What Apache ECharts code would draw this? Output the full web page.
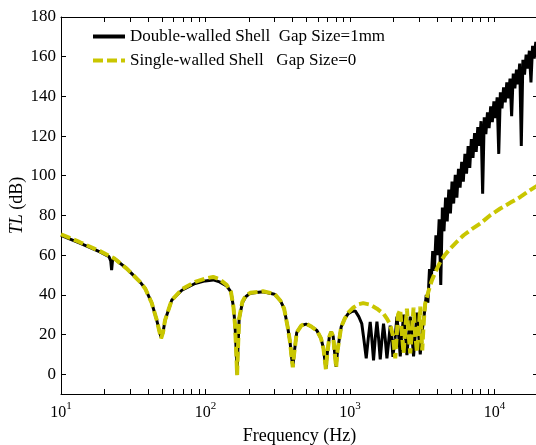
<!DOCTYPE html>
<html>
<head>
<meta charset="utf-8">
<script src="https://cdn.jsdelivr.net/npm/echarts@6/dist/echarts.min.js"></script>
<style>
html, body { margin: 0; padding: 0; background: #fff; }
#main { width: 536px; height: 445px; }
</style>
</head>
<body>
<div id="main"></div>
<script>
var myChart = echarts.init(document.getElementById('main'), null, { renderer: 'canvas' });

var font = 'Liberation Serif';
var seriesNames = ['Double-walled Shell  Gap Size=1mm', 'Single-walled Shell   Gap Size=0'];
var fMin = 10, fMax = 20000;
var tlMin = -10, tlMax = 180;
var yTicks = [0, 20, 40, 60, 80, 100, 120, 140, 160, 180];
var majorTicks = [10, 100, 1000, 10000];
var minorTicks = [20, 30, 40, 50, 60, 70, 80, 90,
    200, 300, 400, 500, 600, 700, 800, 900,
    2000, 3000, 4000, 5000, 6000, 7000, 8000, 9000];

// [frequency Hz, TL dB]
var doubleWalled = [
    [10, 70], [13.5, 66], [18.6, 61.6], [21.5, 59.2], [22.1, 57], [22.4, 52.5], [22.7, 57], [23.3, 58.4],
    [28.5, 53.2], [35.2, 46.5], [38.2, 43.2], [42.4, 36], [45.9, 27.5], [48, 21.5], [49.3, 18.5], [50.8, 21],
    [52.5, 27.2], [58.4, 37.3], [68.6, 42.3], [84.7, 45.7], [99.4, 47], [113, 47.5], [125, 46.5], [140, 44.5],
    [150, 41.5], [156, 34], [160, 25], [163, 12], [165.5, 0], [167.5, 12], [171, 28], [180, 36], [190, 39],
    [204, 40.8], [250, 41.5], [300, 40.3], [330, 37], [350, 33], [370, 24], [385, 16], [395, 8], [402, 3.7],
    [410, 10], [428, 21], [460, 24.5], [497, 25.2], [540, 24], [590, 22], [630, 18], [655, 13], [670, 7],
    [681, 2.8], [695, 10], [720, 19], [741, 21.3], [765, 19], [785, 10], [802, 3.7], [820, 12], [869, 23.8],
    [920, 28], [972, 30.5], [1030, 31.6], [1086, 31.9], [1150, 29], [1206, 25.5], [1250, 17], [1295, 8],
    [1338, 18], [1380, 26.3], [1415, 18], [1455, 7], [1495, 18], [1536, 26.5], [1577, 18], [1619, 7.5],
    [1662, 17], [1706, 25.5], [1752, 18], [1801, 8], [1850, 16], [1898, 24.5], [1940, 18], [1982, 8.7],
    [2050, 18], [2113, 29], [2170, 20], [2227, 9], [2290, 20], [2347, 30], [2410, 20], [2477, 9.6],
    [2545, 20], [2612, 29], [2680, 20], [2753, 9], [2830, 20], [2906, 31], [2985, 20], [3063, 10],
    [3162, 22], [3265, 30],
    [3371, 40], [3459, 36], [3549, 53], [3641, 46], [3736, 62], [3833, 52], [3932, 70], [4035, 60],
    [4140, 78], [4247, 45], [4358, 84], [4471, 72], [4587, 89], [4706, 77], [4829, 93], [4954, 81],
    [5083, 97], [5215, 86], [5351, 100.5], [5490, 89], [5633, 103.5], [5779, 94], [5929, 107], [6083, 97],
    [6242, 111], [6404, 101], [6570, 115], [6741, 104], [6916, 118.5], [7096, 109], [7281, 121.5], [7470, 112],
    [7664, 124.5], [7864, 115], [8068, 127.5], [8278, 91], [8493, 129.5], [8714, 121], [8941, 132], [9173, 124],
    [9412, 135], [9656, 127], [9907, 137.5], [10165, 129], [10429, 139.5], [10700, 111], [10979, 142],
    [11264, 134], [11557, 144.5], [11857, 137], [12166, 147], [12482, 139], [12807, 149], [13140, 130],
    [13481, 151.5], [13832, 144], [14191, 153.5], [14560, 146], [14939, 156.5], [15327, 115], [15726, 158.5],
    [16135, 151], [16554, 161], [16985, 154], [17426, 163], [17879, 147], [18344, 165.5], [18821, 159],
    [19310, 167.5], [19812, 161], [20000, 169]
];

var singleWalled = [
    [10, 70.5], [13.5, 66.5], [18.6, 62], [23.3, 58.4], [28.5, 53.2], [35.2, 46.5], [38.2, 43.2], [42.4, 36],
    [45.9, 27.5], [48, 21.5], [49.3, 18], [50.8, 21], [52.5, 27.2], [58.4, 37.3], [68.6, 42.8], [84.7, 46.5],
    [99.4, 48.2], [113, 49], [125, 47.8], [140, 45], [150, 41.5], [156, 34], [160, 25], [163, 12],
    [165.5, -0.5], [167.5, 12], [171, 28], [180, 36.5], [190, 39.5], [204, 41], [250, 41.8], [300, 40.5],
    [330, 37], [350, 33], [370, 24], [385, 16], [395, 8], [402, 3.5], [410, 10], [428, 21], [460, 24.5],
    [497, 25.5], [540, 24], [590, 22], [630, 18], [655, 13], [670, 7], [681, 2.5], [695, 10], [720, 19],
    [741, 21.3], [765, 19], [785, 10], [802, 3.5], [820, 12], [869, 23.8], [920, 28], [972, 31],
    [1052, 33.5], [1140, 35.2], [1234, 35.8], [1380, 35], [1536, 33], [1706, 30.5], [1801, 28], [1898, 25],
    [1982, 19.5], [2030, 12], [2056, 8], [2090, 16], [2150, 30], [2227, 32.5], [2290, 20], [2347, 10.5],
    [2410, 22], [2477, 33], [2545, 20], [2612, 10.5], [2680, 22], [2753, 33.5], [2830, 20], [2906, 11],
    [2985, 22], [3063, 34], [3115, 22], [3162, 12], [3215, 22], [3265, 30], [3314, 35.6], [3500, 42],
    [3691, 47.4], [3900, 51.5], [4214, 56.6], [4550, 60.2], [4942, 63.3], [5500, 66.8], [6109, 70],
    [7000, 73.2], [7975, 75.9], [9300, 80], [10970, 83.5], [13000, 86.6], [15090, 89.3], [17000, 92],
    [19170, 94.4], [20000, 95.2]
];

var tickStyle = { color: '#000', width: 1 };
var allXTicks = majorTicks.concat(minorTicks);

function logLabel(v) {
    var e = Math.round(Math.log(v) / Math.LN10);
    return '{b|10}{s|' + e + '}';
}

var option = {
    backgroundColor: '#fff',
    animation: false,
    grid: {
        left: 61,
        right: -2,
        top: 17,
        bottom: 51,
        outerBoundsMode: 'none'
    },
    legend: {
        orient: 'vertical',
        left: 91,
        top: 28,
        padding: 0,
        itemWidth: 32,
        itemHeight: 14,
        itemGap: 7,
        itemStyle: { opacity: 0 },
        lineStyle: { width: 4 },
        textStyle: { fontFamily: font, fontSize: 17, color: '#000' },
        data: seriesNames
    },
    xAxis: [{
        type: 'log',
        min: fMin,
        max: fMax,
        position: 'bottom',
        name: 'Frequency (Hz)',
        nameLocation: 'middle',
        nameGap: 33,
        nameTextStyle: { fontFamily: font, fontSize: 18, color: '#000' },
        axisLine: { show: true, onZero: false, lineStyle: tickStyle },
        axisTick: { show: true, inside: true, length: 5, lineStyle: tickStyle, customValues: allXTicks },
        splitLine: { show: false },
        axisLabel: {
            margin: 7,
            customValues: majorTicks,
            formatter: logLabel,
            rich: {
                b: { fontFamily: font, fontSize: 16, color: '#000', lineHeight: 20, verticalAlign: 'bottom' },
                s: { fontFamily: font, fontSize: 11, color: '#000', lineHeight: 11, verticalAlign: 'top' }
            }
        }
    }, {
        type: 'log',
        min: fMin,
        max: fMax,
        position: 'top',
        axisLine: { show: true, onZero: false, lineStyle: tickStyle },
        axisTick: { show: true, inside: true, length: 5, lineStyle: tickStyle, customValues: allXTicks },
        axisLabel: { show: false, customValues: majorTicks },
        splitLine: { show: false }
    }],
    yAxis: [{
        type: 'value',
        min: tlMin,
        max: tlMax,
        position: 'left',
        name: '{i|TL} (dB)',
        nameLocation: 'middle',
        nameGap: 35,
        nameMoveOverlap: false,
        nameTextStyle: {
            fontFamily: font, fontSize: 18, color: '#000',
            rich: { i: { fontFamily: font, fontSize: 18, fontStyle: 'italic', color: '#000' } }
        },
        axisLine: { show: true, onZero: false, lineStyle: tickStyle },
        axisTick: { show: true, inside: true, length: 5, lineStyle: tickStyle, customValues: yTicks },
        splitLine: { show: false },
        axisLabel: {
            margin: 5,
            fontFamily: font, fontSize: 17, color: '#000',
            customValues: yTicks
        }
    }, {
        type: 'value',
        min: tlMin,
        max: tlMax,
        position: 'right',
        axisLine: { show: true, onZero: false, lineStyle: tickStyle },
        axisTick: { show: true, inside: true, length: 5, lineStyle: tickStyle, customValues: yTicks },
        axisLabel: { show: false, customValues: yTicks },
        splitLine: { show: false }
    }],
    series: [{
        name: seriesNames[0],
        type: 'line',
        symbol: 'none',
        data: doubleWalled,
        lineStyle: { color: '#000', width: 3 },
        itemStyle: { color: '#000' },
        z: 2
    }, {
        name: seriesNames[1],
        type: 'line',
        symbol: 'none',
        data: singleWalled,
        lineStyle: { color: '#c9c600', width: 4, type: [10, 4] },
        itemStyle: { color: '#c9c600' },
        z: 3
    }]
};

myChart.setOption(option);
window.addEventListener('resize', myChart.resize);
</script>
</body>
</html>
